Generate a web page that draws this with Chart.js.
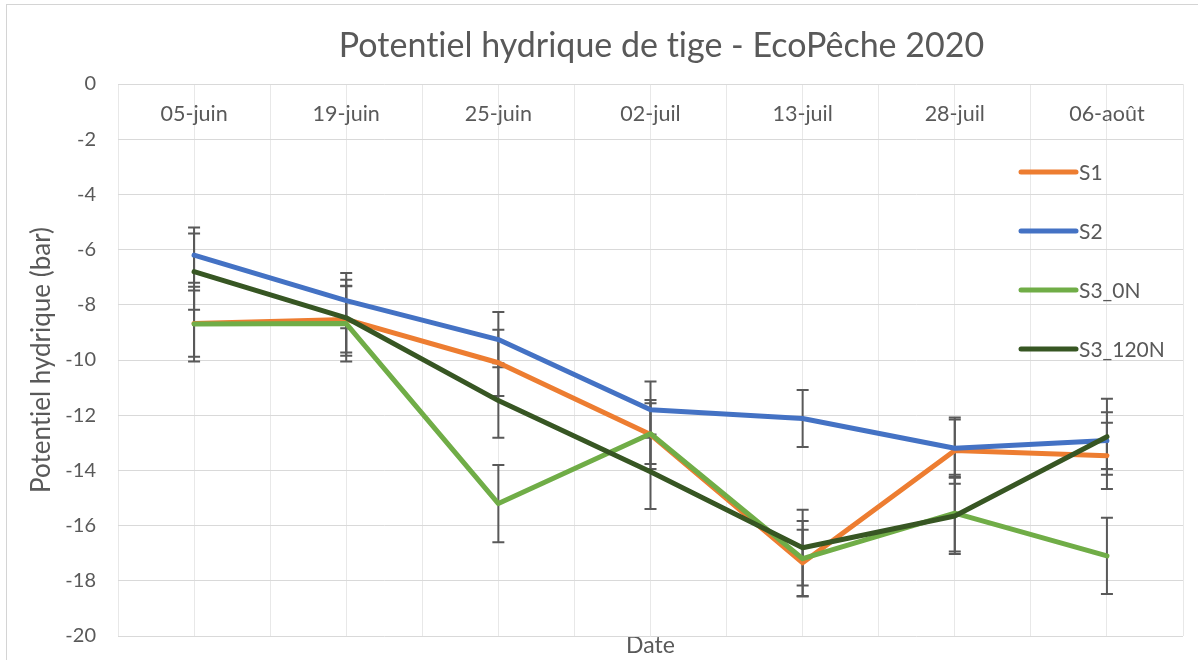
<!DOCTYPE html>
<html><head><meta charset="utf-8">
<script src="https://cdn.jsdelivr.net/npm/chart.js@4.4.1/dist/chart.umd.min.js"></script>
<style>
html,body{margin:0;padding:0;background:#fff;overflow:hidden;width:1198px;height:660px;}
#frame{position:absolute;left:6px;top:4px;width:1400px;height:900px;border:1px solid #d4d4d4;box-sizing:border-box;}
#wrap{position:absolute;left:0;top:0;width:1198px;height:670px;}
</style></head><body>
<div id="frame"></div>
<div id="wrap"><canvas id="c" width="1198" height="670"></canvas></div>
<script>
const chartTitle = "Potentiel hydrique de tige - EcoPêche 2020";
const yTitle = "Potentiel hydrique (bar)";
const xTitle = "Date";
const categories = ["05-juin", "19-juin", "25-juin", "02-juil", "13-juil", "28-juil", "06-août"];
const seriesNames = ["S1", "S2", "S3_0N", "S3_120N"];
const s1 = [-8.68, -8.53, -10.1, -12.7, -17.35, -13.28, -13.47];
const s2 = [-6.2, -7.85, -9.26, -11.8, -12.12, -13.2, -12.92];
const s3_0N = [-8.7, -8.68, -15.2, -12.67, -17.2, -15.55, -17.1];
const s3_120N = [-6.8, -8.47, -11.47, -14.05, -16.8, -15.65, -12.78];
const s1Err = [1.2, 1.2, 1.2, 1.25, 1.2, 1.2, 1.2];
const s2Err = [1.0, 1.0, 1.0, 1.02, 1.03, 1.04, 1.03];
const s3_0NErr = [1.35, 1.37, 1.4, 1.1, 1.37, 1.39, 1.38];
const s3_120NErr = [1.38, 1.38, 1.35, 1.35, 1.37, 1.38, 1.38];

const FONT = "Lato, 'Open Sans', sans-serif";
const TXT = "#595959";
const colors = ["#ED7D31", "#4472C4", "#70AD47", "#375623"];
const values = [s1, s2, s3_0N, s3_120N];
const errs = [s1Err, s2Err, s3_0NErr, s3_120NErr];

const datasets = seriesNames.map((name, i) => ({
  label: name,
  data: values[i],
  errors: errs[i],
  borderColor: colors[i],
  backgroundColor: colors[i],
  borderWidth: 5,
  pointRadius: 0,
  pointHoverRadius: 0,
  tension: 0,
  borderCapStyle: 'round',
  borderJoinStyle: 'round',
  fill: false,
  order: seriesNames.length - i
}));

const noLigaturePlugin = {
  id: 'noLigatures',
  beforeDraw(chart) { try { chart.ctx.textRendering = 'optimizeSpeed'; } catch (e) {} }
};

const titlePlugin = {
  id: 'customTitle',
  afterDraw(chart) {
    const ctx = chart.ctx, ca = chart.chartArea;
    ctx.save();
    ctx.font = "34px " + FONT;
    ctx.fillStyle = TXT;
    ctx.textAlign = 'center';
    ctx.textBaseline = 'middle';
    ctx.fillText(chartTitle, (ca.left + ca.right) / 2 + 11, ca.top - 38);
    ctx.restore();
  }
};

const errorBarPlugin = {
  id: 'errorBars',
  beforeDatasetsDraw(chart) {
    const ctx = chart.ctx, ys = chart.scales.y;
    ctx.save();
    ctx.strokeStyle = '#595959';
    ctx.lineWidth = 2;
    chart.data.datasets.forEach((ds, di) => {
      const meta = chart.getDatasetMeta(di);
      ds.errors.forEach((e, i) => {
        const pt = meta.data[i];
        const v = ds.data[i];
        const t = ys.getPixelForValue(v + e), b = ys.getPixelForValue(v - e);
        ctx.beginPath();
        ctx.moveTo(pt.x, t); ctx.lineTo(pt.x, b);
        ctx.moveTo(pt.x - 6, t); ctx.lineTo(pt.x + 6, t);
        ctx.moveTo(pt.x - 6, b); ctx.lineTo(pt.x + 6, b);
        ctx.stroke();
      });
    });
    ctx.restore();
  }
};

const legendPlugin = {
  id: 'insideLegend',
  afterDraw(chart) {
    const ctx = chart.ctx, ca = chart.chartArea;
    const x0 = ca.right - 162, x1 = ca.right - 107;
    const offs = [88, 147, 206, 265];
    ctx.save();
    ctx.font = "21px " + FONT;
    ctx.fillStyle = TXT;
    ctx.textBaseline = 'middle';
    ctx.textAlign = 'left';
    chart.data.datasets.forEach((ds, i) => {
      const y = ca.top + offs[i];
      ctx.strokeStyle = ds.borderColor;
      ctx.lineWidth = 5;
      ctx.lineCap = 'round';
      ctx.beginPath(); ctx.moveTo(x0, y); ctx.lineTo(x1, y); ctx.stroke();
      ctx.fillText(ds.label, x1 + 3, y + 1);
    });
    ctx.restore();
  }
};

new Chart(document.getElementById('c'), {
  type: 'line',
  data: { labels: categories, datasets },
  plugins: [noLigaturePlugin, errorBarPlugin, legendPlugin, titlePlugin],
  options: {
    responsive: false,
    animation: false,
    layout: { padding: { left: 22, right: 15, top: 84, bottom: 0 } },
    plugins: {
      legend: { display: false },
      tooltip: { enabled: false },
      title: { display: false }
    },
    scales: {
      x: {
        type: 'category',
        position: { y: 0 },
        offset: true,
        grid: { offset: true, color: '#e8e8e8', lineWidth: 1, drawTicks: false },
        border: { display: false },
        ticks: { color: TXT, font: { family: FONT, size: 21.5 }, padding: 17, maxRotation: 0, autoSkip: false }
      },
      x2: {
        type: 'category',
        position: 'bottom',
        labels: categories,
        offset: true,
        grid: { offset: false, color: '#e8e8e8', lineWidth: 1, drawTicks: false },
        border: { display: false },
        ticks: { display: false },
        title: { display: true, text: xTitle, color: TXT, font: { family: FONT, size: 23, lineHeight: 1 }, padding: { top: -2, bottom: 5 } }
      },
      y: {
        min: -20, max: 0,
        ticks: { stepSize: 2, color: TXT, font: { family: FONT, size: 20 }, padding: 22 },
        grid: { color: '#d9d9d9', lineWidth: 1, drawTicks: false },
        border: { display: false },
        title: { display: true, text: yTitle, color: TXT, font: { family: FONT, size: 26, lineHeight: 1.2 }, padding: { top: 4, bottom: 4 } },
        afterFit(scale) { scale.width = 96; }
      }
    }
  }
});
</script>
</body></html>
